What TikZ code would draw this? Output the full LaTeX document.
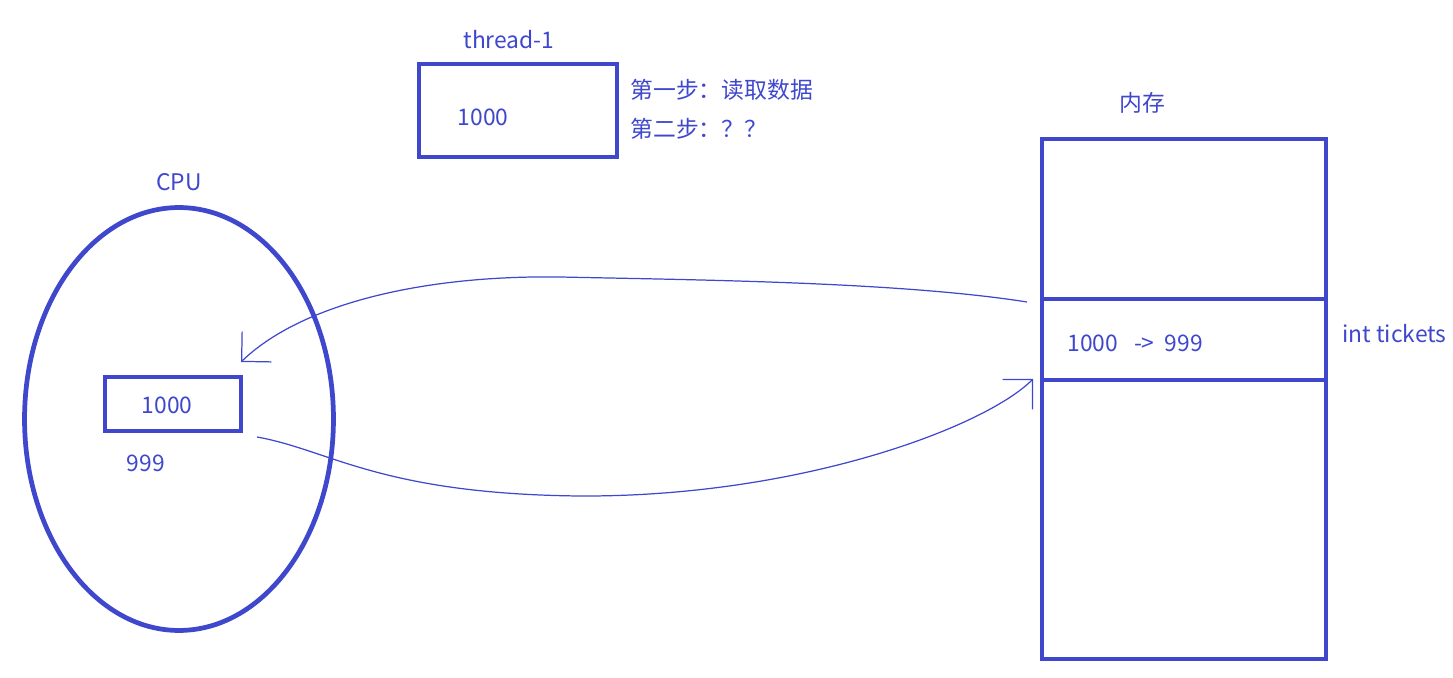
\documentclass[tikz,border=0pt]{standalone}
\usepackage{fontspec}
\setmainfont{Noto Sans CJK SC}
\usetikzlibrary{arrows.meta, shapes.geometric}
\definecolor{pen}{RGB}{63,72,204}

\begin{document}
\begin{tikzpicture}[
    x=0.02cm, y=-0.02cm,
    every node/.style={text=pen, font=\fontsize{13}{15}\selectfont},
    box/.style={draw=pen, line width=2.7pt, inner sep=0pt},
    lbl/.style={inner sep=0pt},
    arr/.style={draw=pen, line width=0.7pt,
      -{Straight Barb[length=4.2mm, width=8.4mm, line width=0.7pt]}}
  ]
    \useasboundingbox (0,0) rectangle (1453,678);
    % CPU side
    \node[box, ellipse, minimum width=6.18cm, minimum height=8.46cm] (cpu) at (179,419) {};
    \node[lbl] (cpulbl) at (179,182) {CPU};
    \node[box, minimum width=2.72cm, minimum height=1.08cm] (reg) at (173,404) {};
    \node[lbl] (regval) at (167,405) {1000};
    \node[lbl] (newval) at (146,463) {999};
    % thread
    \node[box, minimum width=3.96cm, minimum height=1.86cm] (thread) at (518,110.5) {};
    \node[lbl] (threadlbl) at (509,40) {thread-1};
    \node[lbl] (threadval) at (483,117) {1000};
    \node[lbl, anchor=west] (step1) at (630,90) {第一步：读取数据};
    \node[lbl, anchor=west] (step2) at (630,129) {第二步：？？};
    % memory
    \node[box, minimum width=5.68cm, minimum height=10.4cm] (mem) at (1184,399) {};
    \node[box, minimum width=5.68cm, minimum height=1.62cm] (cell) at (1184,339.5) {};
    \node[lbl] (memlbl) at (1142,103) {内存};
    \node[lbl, anchor=west] (cellval) at (1067,343) {1000\hspace{0.32cm}->\hspace{0.2cm}999};
    \node[lbl, anchor=west] (varname) at (1342,334) {int tickets};
    % read and write back
    \coordinate (load) at (1027,302);
    \coordinate (loadtip) at (241,362);
    \coordinate (store) at (257,437);
    \coordinate (storetip) at (1033,379);
    \draw[arr] (load) .. controls (900,282) and (700,280) .. (560,277)
      .. controls (420,275) and (300,305) .. (loadtip);
    \draw[arr] (store) .. controls (330,450) and (380,494) .. (580,496)
      .. controls (800,497) and (985,427) .. (storetip);
  \end{tikzpicture}
\end{document}
